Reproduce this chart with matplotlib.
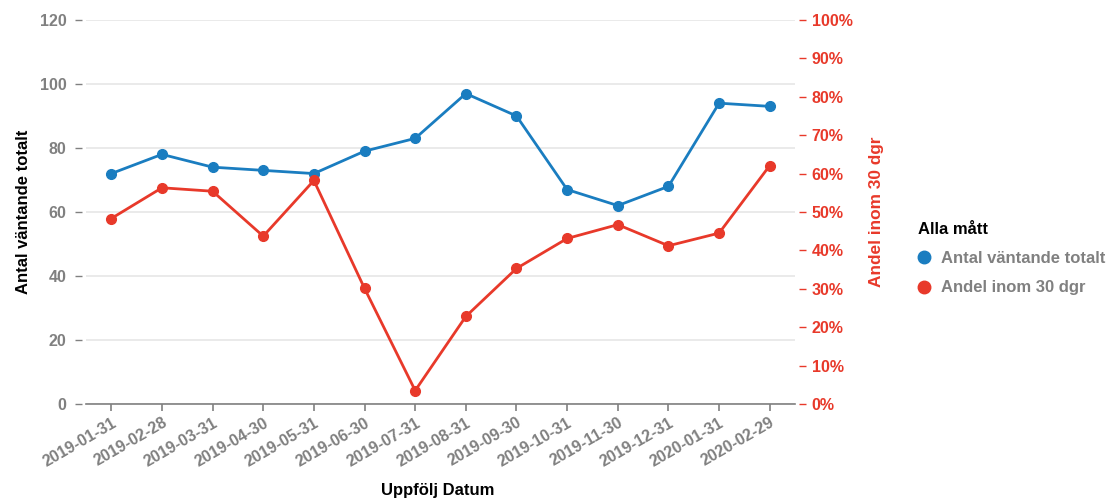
import matplotlib.pyplot as plt
import numpy as np

datum = ['2019-01-31', '2019-02-28', '2019-03-31', '2019-04-30', '2019-05-31',
         '2019-06-30', '2019-07-31', '2019-08-31', '2019-09-30', '2019-10-31',
         '2019-11-30', '2019-12-31', '2020-01-31', '2020-02-29']
antal = [72, 78, 74, 73, 72, 79, 83, 97, 90, 67, 62, 68, 94, 93]
andel = [48.3, 56.3, 55.4, 43.7, 58.2, 30.1, 3.5, 22.8, 35.3, 43.1, 46.7, 41.2, 44.5, 62.1]

blue = '#1a7dc0'
red = '#e8392a'
grey = '#808080'

plt.rcParams['font.family'] = ['Liberation Sans', 'DejaVu Sans']
plt.rcParams['font.weight'] = 'bold'

fig = plt.figure(figsize=(11.12, 4.99), dpi=100)
ax = fig.add_axes([0.0773, 0.1904, 0.6377, 0.7696])
ax2 = ax.twinx()

x = np.arange(len(datum))
l1, = ax.plot(x, antal, color=blue, lw=2, marker='o', ms=7, label='Antal väntande totalt', zorder=3)
l2, = ax2.plot(x, andel, color=red, lw=2, marker='o', ms=7, label='Andel inom 30 dgr', zorder=3)

ax.set_xlim(-0.5, len(datum) - 0.5)
ax.set_ylim(0, 120)
ax.set_yticks(np.arange(0, 121, 20))
ax2.set_ylim(0, 100)
ax2.set_yticks(np.arange(0, 101, 10))
ax2.set_yticklabels(['%d%%' % v for v in range(0, 101, 10)])

ax.grid(axis='y', color='#e6e6e6', lw=1.2)
ax.set_axisbelow(True)

for s in ['top', 'right', 'left']:
    ax.spines[s].set_visible(False)
for s in ['top', 'left', 'bottom', 'right']:
    ax2.spines[s].set_visible(False)
ax.spines['left'].set_position(('outward', 3))
ax2.spines['right'].set_position(('outward', 3))
ax.spines['bottom'].set_color(grey)
ax.spines['bottom'].set_linewidth(1.2)

ax.set_xticks(x)
ax.set_xticklabels(datum, rotation=30, ha='right', rotation_mode='anchor')
ax.tick_params(axis='x', colors=grey, labelsize=11.5, length=5, width=1.2, pad=3)
ax.tick_params(axis='y', colors=grey, labelsize=11.5, length=5, width=1, pad=6)
ax2.tick_params(axis='y', colors=red, labelsize=11.5, length=5, width=1, pad=4)

fig.text(0.394, 0.018, 'Uppfölj Datum', fontsize=12, fontweight='bold', color='black',
         ha='center', va='center')
ax.set_ylabel('Antal väntande totalt', fontsize=12, fontweight='bold', color='black', labelpad=6)
ax2.set_ylabel('Andel inom 30 dgr', fontsize=12.4, fontweight='bold', color=red, labelpad=12)

leg = fig.legend(handles=[l1, l2], loc='upper left', bbox_to_anchor=(0.8072, 0.595),
                 title='Alla mått', frameon=False, fontsize=12, handlelength=0.8,
                 handletextpad=0.6, labelspacing=0.85, borderpad=0.7, alignment='left')
leg.get_title().set_fontweight('bold')
leg.get_title().set_fontsize(12)
for t in leg.get_texts():
    t.set_color(grey)
for h in leg.legend_handles:
    h.set_linestyle('none')
    h.set_markersize(9)

fig.savefig('out.png', dpi=100)
